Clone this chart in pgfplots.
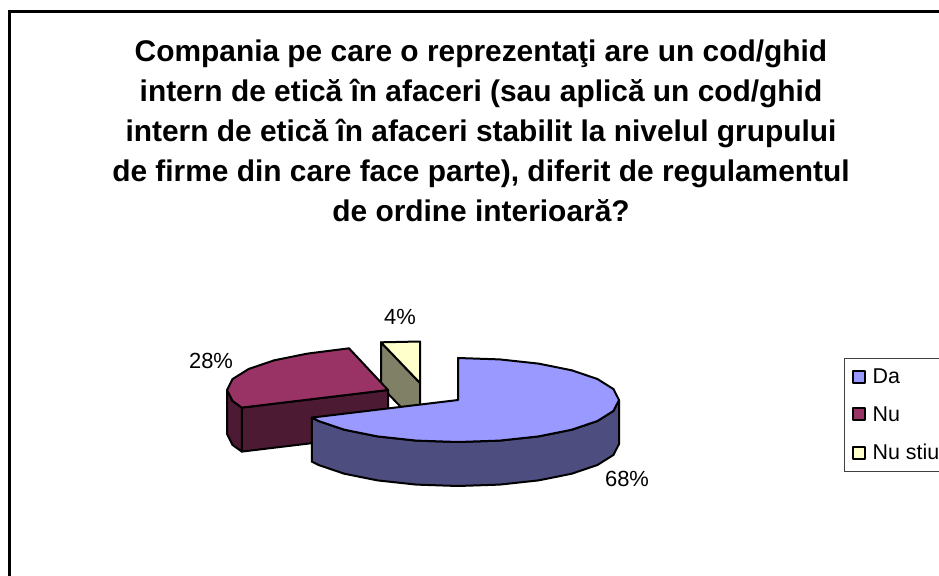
\documentclass[border=0pt]{standalone}
\usepackage{fontspec}
\setmainfont{Liberation Sans}
\usepackage{pgfplots}
\pgfplotsset{compat=1.18}
\definecolor{daTop}{HTML}{9999FF}
\definecolor{daSide}{HTML}{4D4D80}
\definecolor{nuTop}{HTML}{993366}
\definecolor{nuSide}{HTML}{4D1A33}
\definecolor{nsTop}{HTML}{FFFFCC}
\definecolor{nsSide}{HTML}{808066}
\definecolor{legframe}{HTML}{404040}

\begin{document}
\begin{tikzpicture}
\path[use as bounding box] (0,0) rectangle (939bp,576bp);
\begin{axis}[
  scale only axis,width=939bp,height=576bp,
  xmin=0,xmax=939,ymin=0,ymax=576,y dir=reverse,
  hide axis,clip=false,
  reverse legend,
  legend cell align=left,
  legend image code/.code={\draw[#1,line width=2bp] (0bp,-6bp) rectangle (12bp,6bp);},
  legend style={at={(axis description cs:0.8988,0.3793)},anchor=north west,
    draw=legframe,line width=1.2bp,inner xsep=7bp,inner ysep=8.5bp,
    row sep=17.5bp,font=\fontsize{21.5}{24}\selectfont,
    /tikz/column 1/.style={column sep=5bp}},
  every axis plot/.append style={draw=black,line width=2bp,line join=round,mark=none},
]
% yellow slice
\addplot[fill=nsSide,forget plot] coordinates {(381,342.3) (420,383) (420,427) (381,386.3)} -- cycle;
\addplot[fill=nsTop] coordinates {(420,383) (381,342.3) (420,341.5)} -- cycle;
\addlegendentry{Nu stiu}
% red slice: cut face, outer rim, top
\addplot[fill=nuSide,forget plot] coordinates {(388,390) (241.8,407.6) (241.8,451.6) (388,434)} -- cycle;
\addplot[fill=nuSide,forget plot] coordinates {(241.8,407.6) (232.5,400.9) (227,390) (227,434) (232.5,444.9) (241.8,451.6)} -- cycle;
\addplot[fill=nuTop] coordinates {(388,390) (241.8,407.6) (232.5,400.9) (227,390) (232.5,379.1) (248.6,369) (274.2,360.3) (307.5,353.6) (349,348.3)} -- cycle;
\addlegendentry{Nu}
% blue slice: rim, top
\addplot[fill=daSide,forget plot] coordinates {(619,400) (613.5,410.9) (597.4,421) (571.8,429.7) (538.5,436.4) (499.7,440.6) (458,442) (416.3,440.6) (377.5,436.4) (344.2,429.7) (318.6,421) (311.8,417.6)
  (311.8,461.6) (318.6,465) (344.2,473.7) (377.5,480.4) (416.3,484.6) (458,486) (499.7,484.6) (538.5,480.4) (571.8,473.7) (597.4,465) (613.5,454.9) (619,444)} -- cycle;
\addplot[fill=daTop] coordinates {(458,400) (458,358) (499.7,359.4) (538.5,363.6) (571.8,370.3) (597.4,379) (613.5,389.1) (619,400) (613.5,410.9) (597.4,421) (571.8,429.7) (538.5,436.4) (499.7,440.6) (458,442) (416.3,440.6) (377.5,436.4) (344.2,429.7) (318.6,421) (311.8,417.6)} -- cycle;
\addlegendentry{Da}

\draw[black,line width=2.2bp] (axis cs:9.5,580) -- (axis cs:9.5,11.5) -- (axis cs:945,11.5);

\node[align=center,font=\fontsize{30}{40}\selectfont\bfseries,anchor=north] at (axis cs:481,36.5)
  {Compania pe care o reprezentaţi are un cod/ghid\\
   intern de etică în afaceri (sau aplică un cod/ghid\\
   intern de etică în afaceri stabilit la nivelul grupului\\
   de firme din care face parte), diferit de regulamentul\\
   de ordine interioară?};
\node[font=\fontsize{22}{24}\selectfont] at (axis cs:400,317) {4\%};
\node[font=\fontsize{22}{24}\selectfont] at (axis cs:211,361) {28\%};
\node[font=\fontsize{22}{24}\selectfont] at (axis cs:627,479) {68\%};
\end{axis}
\end{tikzpicture}
\end{document}
